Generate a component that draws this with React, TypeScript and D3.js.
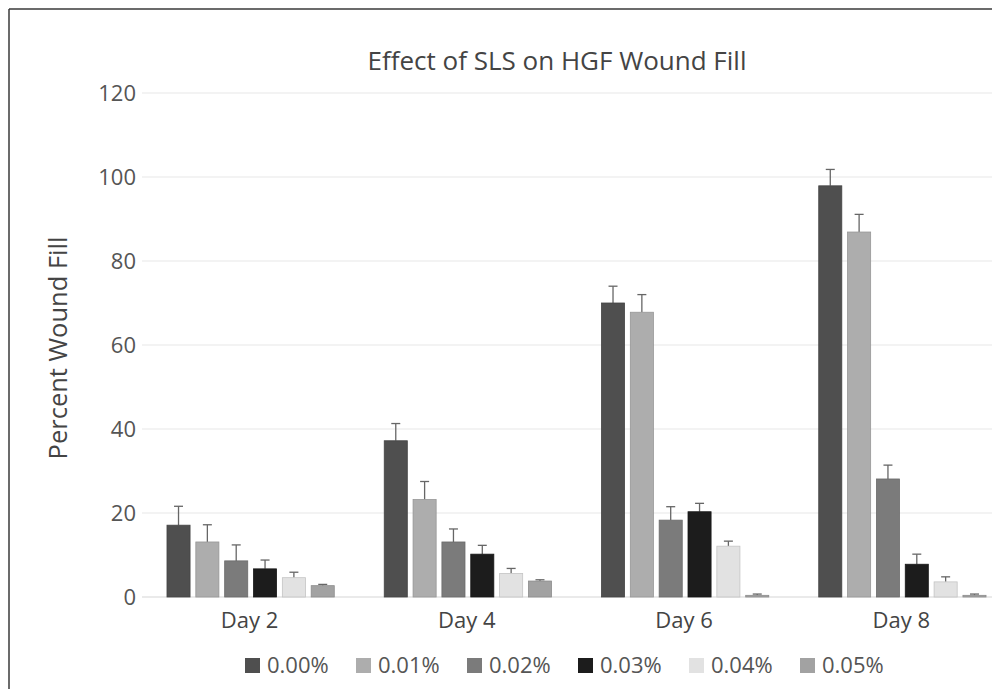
import React from "react";
import * as d3 from "d3";

const days = ["Day 2", "Day 4", "Day 6", "Day 8"];
const concentrations = ["0.00%", "0.01%", "0.02%", "0.03%", "0.04%", "0.05%"];
const colors = ["#4f4f4f", "#adadad", "#7b7b7b", "#1c1c1c", "#e2e2e2", "#a2a2a2"];
// values[concentration][day]
const values = [
  [17.1, 37.2, 70.0, 97.9],
  [13.1, 23.2, 67.8, 86.9],
  [8.6, 13.1, 18.3, 28.1],
  [6.7, 10.2, 20.3, 7.8],
  [4.6, 5.6, 12.1, 3.6],
  [2.7, 3.8, 0.4, 0.4],
];
const errors = [
  [4.5, 4.1, 4.0, 3.9],
  [4.1, 4.3, 4.2, 4.2],
  [3.8, 3.1, 3.2, 3.3],
  [2.1, 2.1, 2.0, 2.4],
  [1.3, 1.2, 1.2, 1.2],
  [0.3, 0.3, 0.3, 0.3],
];
const yTicks = [0, 20, 40, 60, 80, 100, 120];

const W = 992;
const H = 689;
const font = "'Open Sans', 'Noto Sans', sans-serif";

export default function App() {
  const x0 = d3.scaleBand().domain(days).range([142, 1011]).paddingInner(0).paddingOuter(0);
  const x1 = d3
    .scaleBand()
    .domain(concentrations)
    .range([0, x0.bandwidth() * 0.77])
    .paddingInner(0.2);
  const groupOffset = (x0.bandwidth() - x0.bandwidth() * 0.77) / 2;
  const y = d3.scaleLinear().domain([0, 120]).range([597, 93]);

  return (
    <svg
      width={W}
      height={H}
      style={{ position: "absolute", left: 0, top: 0, background: "#fff" }}
      fontFamily={font}
    >
      <rect x={0} y={0} width={W} height={H} fill="#fff" />
      <line x1={9} y1={9} x2={W} y2={9} stroke="#3a3a3a" strokeWidth={1.5} />
      <line x1={9} y1={9} x2={9} y2={H} stroke="#3a3a3a" strokeWidth={1.5} />

      <text x={557} y={70} textAnchor="middle" fontSize={26} fill="#444">
        Effect of SLS on HGF Wound Fill
      </text>

      {yTicks.map((t) => (
        <g key={t}>
          <line x1={142} x2={W} y1={y(t)} y2={y(t)} stroke={t === 0 ? "#d6d6d6" : "#e8e8e8"} strokeWidth={1.2} />
          <text x={136} y={y(t)} dy="0.36em" textAnchor="end" fontSize={22} fill="#555">
            {t}
          </text>
        </g>
      ))}

      <text
        transform={`translate(67, ${348}) rotate(-90)`}
        textAnchor="middle"
        fontSize={25.5}
        fill="#444"
      >
        Percent Wound Fill
      </text>

      {days.map((d, di) => (
        <g key={d}>
          {concentrations.map((c, ci) => {
            const bx = (x0(d) as number) + groupOffset + (x1(c) as number);
            const bw = x1.bandwidth();
            const v = values[ci][di];
            const e = errors[ci][di];
            const cx = bx + bw / 2;
            return (
              <g key={c}>
                <line x1={cx} x2={cx} y1={y(v)} y2={y(v + e)} stroke="#666" strokeWidth={1.3} />
                <line x1={cx - 4.5} x2={cx + 4.5} y1={y(v + e)} y2={y(v + e)} stroke="#666" strokeWidth={1.3} />
                <rect
                  x={bx}
                  y={y(v)}
                  width={bw}
                  height={y(0) - y(v)}
                  fill={colors[ci]}
                  stroke={d3.color(colors[ci])!.darker(0.4).toString()}
                  strokeWidth={0.8}
                />
              </g>
            );
          })}
          <text
            x={(x0(d) as number) + x0.bandwidth() / 2 - 1}
            y={628}
            textAnchor="middle"
            fontSize={22}
            fill="#444"
          >
            {d}
          </text>
        </g>
      ))}

      {concentrations.map((c, ci) => {
        const lx = 245 + ci * 111;
        return (
          <g key={c}>
            <rect x={lx} y={658} width={15} height={15} fill={colors[ci]} />
            <text x={lx + 22} y={673} fontSize={22} fill="#555">
              {c}
            </text>
          </g>
        );
      })}
    </svg>
  );
}
